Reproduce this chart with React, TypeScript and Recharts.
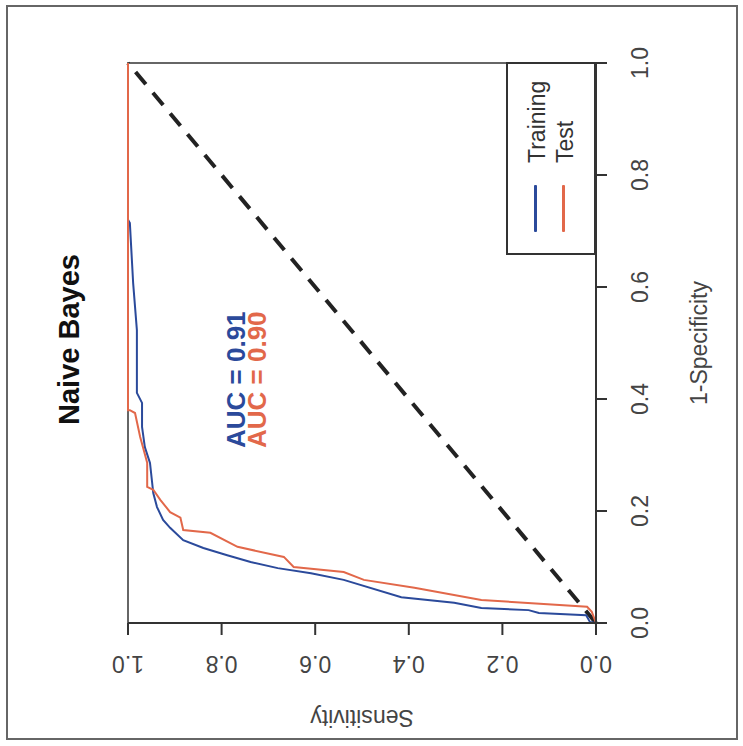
import React from 'react';
import { LineChart, Line, XAxis, YAxis, ReferenceArea } from 'recharts';

// ROC points: sensitivity / 1-specificity pairs
const trainingSens = [0, 0.013, 0.021, 0.122, 0.144, 0.245, 0.303, 0.416, 0.539, 0.609, 0.68, 0.738, 0.788, 0.839, 0.882, 0.91, 0.925, 0.938, 0.946, 0.953, 0.964, 0.97, 0.97, 0.981, 0.981, 0.989, 0.996, 1, 1];
const trainingFpr = [0, 0.002, 0.014, 0.018, 0.023, 0.027, 0.036, 0.046, 0.077, 0.089, 0.098, 0.109, 0.121, 0.134, 0.148, 0.17, 0.184, 0.207, 0.232, 0.286, 0.314, 0.35, 0.393, 0.411, 0.523, 0.607, 0.714, 0.72, 1];

const testSens = [0, 0.009, 0.019, 0.245, 0.388, 0.496, 0.539, 0.646, 0.667, 0.766, 0.824, 0.882, 0.888, 0.91, 0.931, 0.946, 0.959, 0.959, 0.968, 0.974, 0.985, 0.996, 1, 1];
const testFpr = [0, 0.02, 0.029, 0.041, 0.063, 0.077, 0.091, 0.1, 0.118, 0.136, 0.161, 0.166, 0.188, 0.198, 0.22, 0.238, 0.243, 0.286, 0.314, 0.332, 0.375, 0.38, 0.38, 1];

const diagonal = [
  { sens: 0, fpr: 0 },
  { sens: 1, fpr: 1 },
];

const ticks = [0, 0.2, 0.4, 0.6, 0.8, 1];

const series = [
  { name: 'Training', auc: '0.91', color: '#2b4a9b' },
  { name: 'Test', auc: '0.90', color: '#e2684a' },
];

const trainingData = trainingSens.map((s, i) => ({ sens: s, fpr: trainingFpr[i] }));
const testData = testSens.map((s, i) => ({ sens: s, fpr: testFpr[i] }));

const FONT = '"Liberation Sans", Arial, Helvetica, sans-serif';

// tick labels are drawn turned, like the rest of the figure
const SensTick = ({ x, y, payload }: any) => (
  <text
    x={x}
    y={y}
    transform={`rotate(180 ${x} ${y})`}
    textAnchor="middle"
    dominantBaseline="central"
    fontFamily={FONT}
    fontSize={23}
    fill="#444"
  >
    {Number(payload.value).toFixed(1)}
  </text>
);

const FprTick = ({ x, y, payload }: any) => (
  <text
    x={x}
    y={y}
    transform={`rotate(-90 ${x} ${y})`}
    textAnchor="middle"
    dominantBaseline="central"
    fontFamily={FONT}
    fontSize={23}
    fill="#444"
  >
    {Number(payload.value).toFixed(1)}
  </text>
);

// text reading bottom-to-top, starting at y=start, centred on x=cx
function VText({ cx, start, size, lh, children, style }: any) {
  return (
    <div
      style={{
        position: 'absolute',
        left: cx - lh / 2,
        top: start,
        height: lh,
        lineHeight: `${lh}px`,
        fontSize: size,
        fontFamily: FONT,
        whiteSpace: 'nowrap',
        transform: 'rotate(-90deg)',
        transformOrigin: '0 0',
        ...style,
      }}
    >
      {children}
    </div>
  );
}

export default function App() {
  return (
    <div style={{ position: 'absolute', left: 0, top: 0, width: 743, height: 746, background: '#fff' }}>
      {/* outer frame */}
      <div
        style={{
          position: 'absolute',
          left: 6,
          top: 5,
          width: 728,
          height: 731,
          border: '2px solid #666',
        }}
      />

      <LineChart
        width={743}
        height={746}
        margin={{ top: 63, right: 37, bottom: 13, left: 128 }}
        style={{ position: 'absolute', left: 0, top: 0 }}
      >
        <XAxis
          type="number"
          dataKey="sens"
          domain={[0, 1]}
          reversed
          ticks={ticks}
          height={110}
          tickSize={12}
          tickMargin={29}
          stroke="#333"
          strokeWidth={2}
          tick={<SensTick />}
          label={{
            value: 'Sensitivity',
            content: ({ viewBox }: any) => {
              const cx = viewBox.x + viewBox.width / 2;
              const cy = viewBox.y + 95;
              return (
                <text
                  x={cx}
                  y={cy}
                  transform={`rotate(180 ${cx} ${cy})`}
                  textAnchor="middle"
                  dominantBaseline="central"
                  fontFamily={FONT}
                  fontSize={23}
                  fill="#444"
                >
                  Sensitivity
                </text>
              );
            },
          }}
        />
        <YAxis
          type="number"
          dataKey="fpr"
          orientation="right"
          domain={[0, 1]}
          ticks={ticks}
          width={110}
          tickSize={11}
          tickMargin={33}
          stroke="#333"
          strokeWidth={2}
          tick={<FprTick />}
          label={{
            value: '1-Specificity',
            content: ({ viewBox }: any) => {
              const cx = viewBox.x + 103;
              const cy = viewBox.y + viewBox.height / 2;
              return (
                <text
                  x={cx}
                  y={cy}
                  transform={`rotate(-90 ${cx} ${cy})`}
                  textAnchor="middle"
                  dominantBaseline="central"
                  fontFamily={FONT}
                  fontSize={23}
                  fill="#444"
                >
                  1-Specificity
                </text>
              );
            },
          }}
        />
        <ReferenceArea x1={0} x2={1} y1={0} y2={1} fill="none" stroke="#666" strokeWidth={2} ifOverflow="visible" />
        <Line
          data={diagonal}
          dataKey="fpr"
          type="linear"
          stroke="#222"
          strokeWidth={4}
          strokeDasharray="16 11"
          dot={false}
          isAnimationActive={false}
        />
        <Line
          data={trainingData}
          dataKey="fpr"
          name="Training"
          type="linear"
          stroke={series[0].color}
          strokeWidth={2}
          dot={false}
          isAnimationActive={false}
        />
        <Line
          data={testData}
          dataKey="fpr"
          name="Test"
          type="linear"
          stroke={series[1].color}
          strokeWidth={2}
          dot={false}
          isAnimationActive={false}
        />
      </LineChart>

      {/* title */}
      <VText cx={69} start={425} size={29} lh={29} style={{ fontWeight: 'bold', color: '#111' }}>
        Naive Bayes
      </VText>

      {/* AUC labels */}
      <VText cx={236} start={448} size={26} lh={26} style={{ fontWeight: 'bold', color: series[0].color }}>
        AUC = {series[0].auc}
      </VText>
      <VText cx={257} start={448} size={26} lh={26} style={{ fontWeight: 'bold', color: series[1].color }}>
        AUC = {series[1].auc}
      </VText>

      {/* legend */}
      <div
        style={{
          position: 'absolute',
          left: 506,
          top: 62,
          width: 86,
          height: 189,
          border: '2px solid #333',
          background: '#fff',
        }}
      />
      {series.map((s, i) => (
        <React.Fragment key={s.name}>
          <div
            style={{
              position: 'absolute',
              left: 534 + i * 28,
              top: 185,
              width: 3,
              height: 47,
              background: s.color,
              borderRadius: 1,
            }}
          />
          <VText cx={537 + i * 28} start={163} size={23} lh={23} style={{ color: '#333' }}>
            {s.name}
          </VText>
        </React.Fragment>
      ))}
    </div>
  );
}
